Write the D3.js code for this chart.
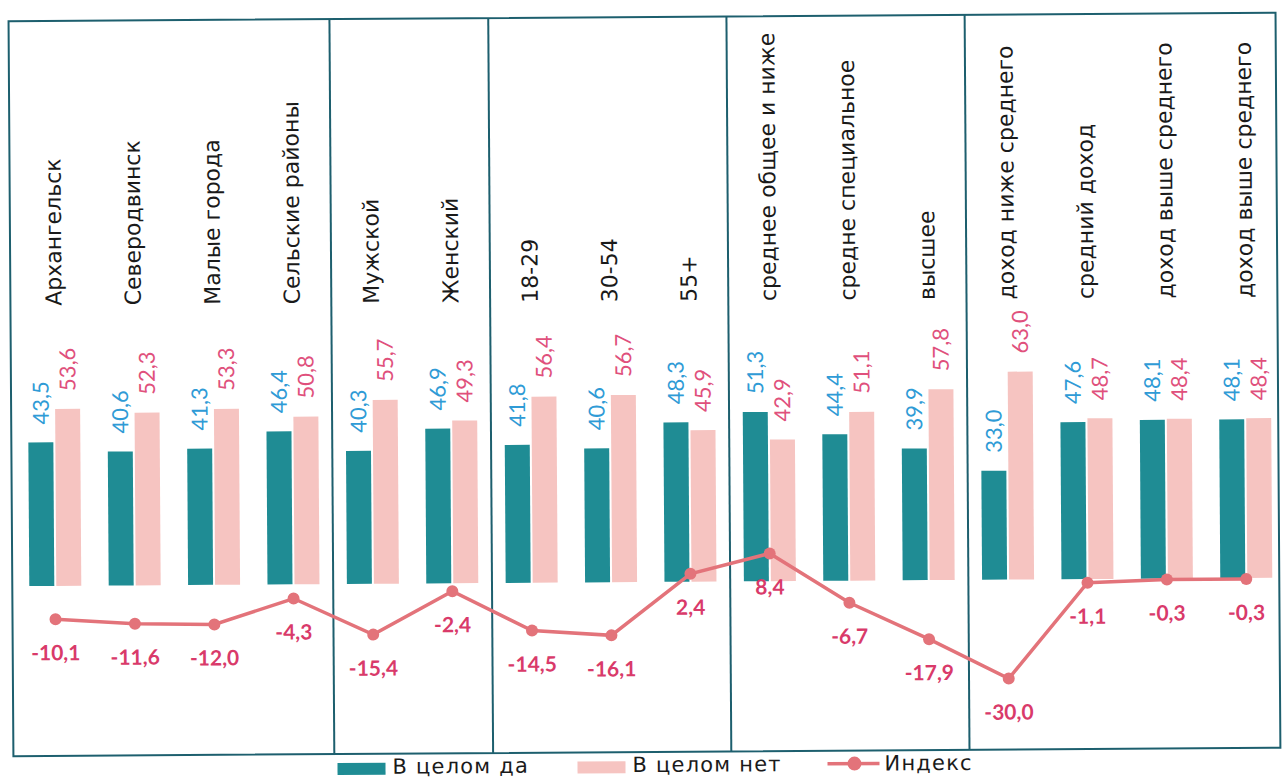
<!DOCTYPE html>
<html>
<head>
<meta charset="utf-8">
<script src="https://cdn.jsdelivr.net/npm/d3@7"></script>
<style>
  html, body { margin: 0; padding: 0; background: #ffffff; }
  svg { display: block; }
</style>
</head>
<body>
<svg id="chart" width="1288" height="778"></svg>
<script>
// ---- data ----
const categories = [
  "Архангельск", "Северодвинск", "Малые города", "Сельские районы",
  "Мужской", "Женский",
  "18-29", "30-54", "55+",
  "среднее общее и ниже", "средне специальное", "высшее",
  "доход ниже среднего", "средний доход", "доход выше среднего", "доход выше среднего "
];
const groupStarts = ["Мужской", "18-29", "среднее общее и ниже", "доход ниже среднего"];
const yesValues   = [43.5, 40.6, 41.3, 46.4, 40.3, 46.9, 41.8, 40.6, 48.3, 51.3, 44.4, 39.9, 33.0, 47.6, 48.1, 48.1];
const noValues    = [53.6, 52.3, 53.3, 50.8, 55.7, 49.3, 56.4, 56.7, 45.9, 42.9, 51.1, 57.8, 63.0, 48.7, 48.4, 48.4];
const indexValues = [-10.1, -11.6, -12.0, -4.3, -15.4, -2.4, -14.5, -16.1, 2.4, 8.4, -6.7, -17.9, -30.0, -1.1, -0.3, -0.3];
const seriesNames = ["В целом да", "В целом нет", "Индекс"];

// ---- styles ----
const C = {
  yes: "#1f8c94", no: "#f6c4c1", line: "#e3737a",
  yesLabel: "#2f9bd6", noLabel: "#e0507c", idxLabel: "#d93a6a",
  frame: "#1d5f6e", text: "#1a1a1a"
};
const W = 1288, H = 778;
const frame = { left: 11, right: 1278, top: 17, bottom: 752 };
const baseY = 582;

const svg = d3.select("#chart");
const g = svg.append("g").attr("transform", `rotate(-0.38, ${W/2}, ${H/2})`);

const x = d3.scaleBand().domain(categories).range([14.3, 1284.7]).padding(0);
const y = d3.scaleLinear().domain([0, 60]).range([baseY, baseY - 198]);
const fmt = v => v.toFixed(1).replace(".", ",");
const cx = d => x(d) + x.bandwidth() / 2;
const barW = 25;

// frame
g.append("rect")
  .attr("x", frame.left).attr("y", frame.top)
  .attr("width", frame.right - frame.left).attr("height", frame.bottom - frame.top)
  .attr("fill", "none").attr("stroke", C.frame).attr("stroke-width", 2);
g.selectAll("line.div").data(groupStarts).join("line")
  .attr("class", "div")
  .attr("x1", d => x(d)).attr("x2", d => x(d))
  .attr("y1", frame.top).attr("y2", frame.bottom)
  .attr("stroke", C.frame).attr("stroke-width", 2);

// category labels
g.selectAll("text.cat").data(categories).join("text")
  .attr("class", "cat")
  .attr("transform", d => `translate(${cx(d) + 8}, 302) rotate(-90)`)
  .attr("font-family", "DejaVu Sans, sans-serif")
  .attr("font-size", 22)
  .attr("fill", C.text)
  .text(d => d.trim());

const rows = categories.map((c, i) => ({ c, yes: yesValues[i], no: noValues[i], idx: indexValues[i] }));

// bars
g.selectAll("rect.yes").data(rows).join("rect")
  .attr("class", "yes")
  .attr("x", d => cx(d.c) - 1 - barW).attr("width", barW)
  .attr("y", d => y(d.yes)).attr("height", d => y(0) - y(d.yes))
  .attr("fill", C.yes);
g.selectAll("rect.no").data(rows).join("rect")
  .attr("class", "no")
  .attr("x", d => cx(d.c) + 1).attr("width", barW)
  .attr("y", d => y(d.no)).attr("height", d => y(0) - y(d.no))
  .attr("fill", C.no);

// value labels
g.selectAll("text.yesv").data(rows).join("text")
  .attr("class", "yesv")
  .attr("transform", d => `translate(${cx(d.c) - 1 - barW / 2 + 8}, ${y(d.yes) - 18}) rotate(-90)`)
  .attr("font-family", "Lato, sans-serif").attr("font-size", 22)
  .attr("fill", C.yesLabel)
  .text(d => fmt(d.yes));
g.selectAll("text.nov").data(rows).join("text")
  .attr("class", "nov")
  .attr("transform", d => `translate(${cx(d.c) + 1 + barW / 2 + 8}, ${y(d.no) - 18}) rotate(-90)`)
  .attr("font-family", "Lato, sans-serif").attr("font-size", 22)
  .attr("fill", C.noLabel)
  .text(d => fmt(d.no));

// index line
const line = d3.line().x(d => cx(d.c)).y(d => y(d.idx));
g.append("path").datum(rows)
  .attr("d", line).attr("fill", "none")
  .attr("stroke", C.line).attr("stroke-width", 3.5);
g.selectAll("circle.pt").data(rows).join("circle")
  .attr("class", "pt")
  .attr("cx", d => cx(d.c)).attr("cy", d => y(d.idx)).attr("r", 6)
  .attr("fill", C.line);
g.selectAll("text.idx").data(rows).join("text")
  .attr("class", "idx")
  .attr("x", d => cx(d.c)).attr("y", d => y(d.idx) + 41)
  .attr("text-anchor", "middle")
  .attr("font-family", "Lato, sans-serif").attr("font-size", 21).attr("font-weight", "bold")
  .attr("fill", C.idxLabel)
  .text(d => fmt(d.idx));

// legend
const lg = g.append("g");
const legFont = sel => sel.attr("font-family", "DejaVu Sans, sans-serif")
  .attr("font-size", 21).attr("letter-spacing", 1.2).attr("fill", C.text);
lg.append("rect").attr("x", 335).attr("y", 761).attr("width", 48).attr("height", 12).attr("fill", C.yes);
lg.append("text").attr("x", 390).attr("y", 772).call(legFont).text(seriesNames[0]);
lg.append("rect").attr("x", 575).attr("y", 761).attr("width", 48).attr("height", 12).attr("fill", C.no);
lg.append("text").attr("x", 630).attr("y", 772).call(legFont).text(seriesNames[1]);
lg.append("line").attr("x1", 825).attr("x2", 877).attr("y1", 765).attr("y2", 765)
  .attr("stroke", C.line).attr("stroke-width", 3.5);
lg.append("circle").attr("cx", 852).attr("cy", 765).attr("r", 7).attr("fill", C.line);
lg.append("text").attr("x", 882).attr("y", 772).call(legFont).text(seriesNames[2]);
</script>
</body>
</html>
